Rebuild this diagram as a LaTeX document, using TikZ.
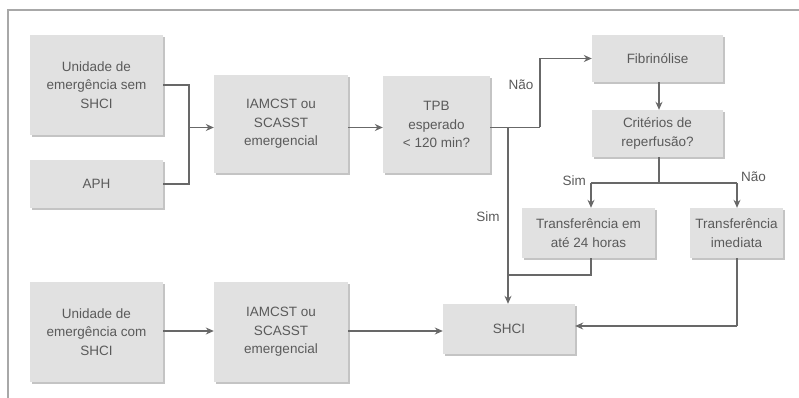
\documentclass[tikz,border=0pt]{standalone}
\usepackage{fontspec}
\setmainfont{Liberation Sans}
\usetikzlibrary{shadows,arrows.meta}
\definecolor{boxfill}{HTML}{E1E1E1}
\definecolor{boxshade}{HTML}{C4C4C4}
\definecolor{ink}{HTML}{5A5A5A}
\definecolor{wire}{HTML}{686868}
\definecolor{frame}{HTML}{A8A8A8}
\begin{document}
\begin{tikzpicture}[x=1pt,y=-1pt,
  flowbox/.style={rectangle, fill=boxfill, text=ink, align=center, inner sep=0pt,
    font=\fontsize{13.5}{18.5}\selectfont,
    drop shadow={shadow xshift=2pt, shadow yshift=-2pt, fill=boxshade, opacity=1}},
  wirestyle/.style={draw=wire, line width=1.1pt},
  arr/.style={wirestyle, -{Stealth[length=8pt,width=7pt]}},
  lbl/.style={text=ink, font=\fontsize{13.5}{16}\selectfont, inner sep=0pt}]
\useasboundingbox (0,0) rectangle (799,398);
% outer frame: top and left edges only
\draw[frame, line width=1.5pt] (8,398) -- (8,10) -- (799,10);

% boxes
\node[flowbox, minimum width=133pt, minimum height=100pt] (A) at (96.5,85) {Unidade de\\emergência sem\\SHCI};
\node[flowbox, minimum width=133pt, minimum height=48pt] (aph) at (96.5,184) {APH};
\node[flowbox, minimum width=134pt, minimum height=98pt] (iam1) at (281,124) {IAMCST ou\\SCASST\\emergencial};
\node[flowbox, minimum width=107pt, minimum height=97pt] (tpb) at (436.5,124.5) {TPB\\esperado\\< 120 min?};
\node[flowbox, minimum width=131pt, minimum height=47pt] (fib) at (657.5,58.5) {Fibrinólise};
\node[flowbox, minimum width=131pt, minimum height=47pt] (crit) at (657.5,133.5) {Critérios de\\reperfusão?};
\node[flowbox, minimum width=133pt, minimum height=50pt] (t24) at (588.5,233) {Transferência em\\até 24 horas};
\node[flowbox, minimum width=93pt, minimum height=50pt] (timm) at (736.5,233) {Transferência\\imediata};
\node[flowbox, minimum width=132pt, minimum height=50pt] (shci) at (509,329) {SHCI};
\node[flowbox, minimum width=133pt, minimum height=100pt] (B) at (96.5,332) {Unidade de\\emergência com\\SHCI};
\node[flowbox, minimum width=134pt, minimum height=100pt] (iam2) at (281,332) {IAMCST ou\\SCASST\\emergencial};

% junction points
\coordinate (j1) at (189,127.5);
\coordinate (jn) at (540,127.5);
\coordinate (js) at (508,127.5);
\coordinate (jt) at (508,275);
\coordinate (jc) at (659,183);
\coordinate (jl) at (591,183);
\coordinate (jr) at (737,183);
\coordinate (jb) at (0,331);
\coordinate (ji) at (737,326);

% top-left merge into the first assessment box
\draw[wirestyle] (A.east) -| (j1);
\draw[wirestyle] (aph.east) -| (j1);
\draw[arr] (j1) -- (j1 -| iam1.west);
\draw[arr] (j1 -| iam1.east) -- (j1 -| tpb.west);

% decision on expected time
\draw[wirestyle] (j1 -| tpb.east) -- (jn);
\draw[arr] (jn) |- (fib.west);
\draw[arr] (js) -- (js |- shci.north);
\node[lbl] (nao1) at (521,85) {Não};
\node[lbl] (sim1) at (488,217) {Sim};

% fibrinolysis branch
\draw[arr] (fib.south -| jc) -- (crit.north -| jc);
\draw[wirestyle] (crit.south -| jc) -- (jc);
\draw[wirestyle] (jl) -- (jr);
\draw[arr] (jl) -- (jl |- t24.north);
\draw[arr] (jr) -- (jr |- timm.north);
\node[lbl, anchor=south east] (sim2) at (586,186) {Sim};
\node[lbl, anchor=south west] (nao2) at (741,182) {Não};

% transfers into SHCI
\draw[wirestyle] (t24.south -| jl) |- (jt);
\draw[wirestyle] (timm.south -| ji) -- (ji);
\draw[arr] (ji) -- (ji -| shci.east);

% bottom row
\draw[arr] (jb -| B.east) -- (jb -| iam2.west);
\draw[arr] (jb -| iam2.east) -- (jb -| shci.west);
\end{tikzpicture}
\end{document}
